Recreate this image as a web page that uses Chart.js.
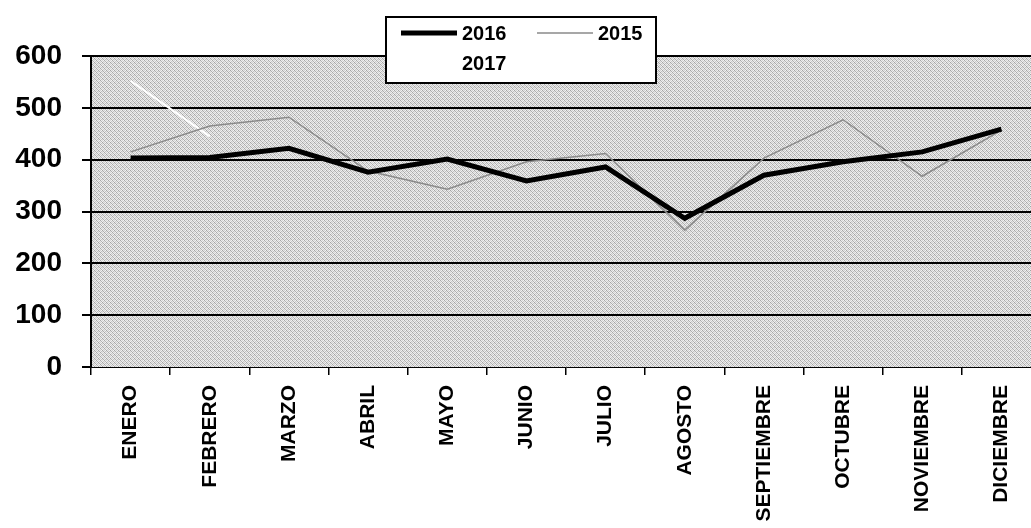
<!DOCTYPE html>
<html>
<head>
<meta charset="utf-8">
<script src="https://cdn.jsdelivr.net/npm/chart.js@4.4.1/dist/chart.umd.min.js"></script>
<style>
  html, body { margin: 0; padding: 0; background: #fff; overflow: hidden; }
  canvas { display: block; }
</style>
</head>
<body>
<canvas id="ventasChart" width="1045" height="528"></canvas>
<script>
// --- DATOS ---
const meses = ['ENERO', 'FEBRERO', 'MARZO', 'ABRIL', 'MAYO', 'JUNIO', 'JULIO', 'AGOSTO',
               'SEPTIEMBRE', 'OCTUBRE', 'NOVIEMBRE', 'DICIEMBRE'];
const datos2016 = [403, 404, 422, 376, 401, 359, 386, 287, 370, 396, 415, 459];
const datos2015 = [415, 465, 482, 378, 343, 396, 412, 264, 403, 477, 368, 457];
const datos2017 = [552, 445, null, null, null, null, null, null, null, null, null, null];
const ticksY = [0, 100, 200, 300, 400, 500, 600];

// fondo gris tramado del área de trazado
const patCanvas = document.createElement('canvas');
patCanvas.width = 4;
patCanvas.height = 4;
const pctx = patCanvas.getContext('2d');
const tonos = ['#a8a8a8', '#ececec', '#d4d4d4', '#f2f2f2',
               '#e6e6e6', '#b4b4b4', '#f0f0f0', '#c8c8c8',
               '#d0d0d0', '#f4f4f4', '#a4a4a4', '#e8e8e8',
               '#eeeeee', '#c0c0c0', '#e2e2e2', '#b0b0b0'];
tonos.forEach((c, i) => {
    pctx.fillStyle = c;
    pctx.fillRect(i % 4, Math.floor(i / 4), 1, 1);
});

const fondoPlugin = {
    id: 'fondo',
    beforeDraw(chart) {
        const { ctx, chartArea: a } = chart;
        ctx.save();
        ctx.fillStyle = ctx.createPattern(patCanvas, 'repeat');
        ctx.fillRect(a.left, a.top, a.right - a.left, a.bottom - a.top);
        ctx.restore();
    }
};

// --- LEYENDA (caja con borde) ---
const leyendaPlugin = {
    id: 'leyenda',
    afterDraw(chart) {
        const ctx = chart.ctx;
        const ds = chart.data.datasets;
        ctx.save();
        ctx.fillStyle = '#fff';
        ctx.fillRect(386, 17, 270, 66);
        ctx.strokeStyle = '#000';
        ctx.lineWidth = 2;
        ctx.strokeRect(386, 17, 270, 66);
        const items = [
            { d: ds[0], x: 401, y: 33 },
            { d: ds[1], x: 537, y: 33 },
            { d: ds[2], x: 401, y: 63 }
        ];
        ctx.font = 'bold 20px "Liberation Sans", Arial, sans-serif';
        ctx.textBaseline = 'middle';
        items.forEach(it => {
            ctx.beginPath();
            ctx.strokeStyle = it.d.borderColor;
            ctx.lineWidth = it.d.borderWidth;
            ctx.moveTo(it.x, it.y);
            ctx.lineTo(it.x + 56, it.y);
            ctx.stroke();
            ctx.fillStyle = '#000';
            ctx.fillText(it.d.label, it.x + 61, it.y + 1);
        });
        ctx.restore();
    }
};

const chartCtx = document.getElementById('ventasChart').getContext('2d');
new Chart(chartCtx, {
    type: 'line',
    data: {
        labels: meses,
        datasets: [
            { label: '2016', data: datos2016, borderColor: '#000', borderWidth: 5 },
            { label: '2015', data: datos2015, borderColor: '#8a8a8a', borderWidth: 1.5 },
            { label: '2017', data: datos2017, borderColor: '#fff', borderWidth: 2 }
        ]
    },
    options: {
        responsive: false,
        animation: false,
        events: [],
        layout: { padding: { top: 56, right: 4, left: 0, bottom: 0 } },
        elements: {
            line: { tension: 0, fill: false },
            point: { radius: 0 }
        },
        plugins: {
            legend: { display: false },
            tooltip: { enabled: false }
        },
        scales: {
            x: {
                offset: true,
                grid: {
                    offset: true,
                    drawOnChartArea: false,
                    drawTicks: true,
                    tickLength: 8,
                    tickColor: '#000',
                    lineWidth: 1.5
                },
                border: { color: '#000', width: 1, dash: [1, 1] },
                ticks: {
                    color: '#000',
                    autoSkip: false,
                    minRotation: 90,
                    maxRotation: 90,
                    padding: 10,
                    font: { family: '"Liberation Sans", Arial, sans-serif', size: 21, weight: 'bold' }
                },
                afterFit(scale) { scale.height = 161; }
            },
            y: {
                min: 0,
                max: 600,
                afterBuildTicks(scale) { scale.ticks = ticksY.map(v => ({ value: v })); },
                grid: {
                    color: ctx => ctx.tick && ctx.tick.value === 0 ? 'rgba(0,0,0,0)' : '#000',
                    lineWidth: 2,
                    drawTicks: true,
                    tickLength: 9,
                    tickColor: '#000'
                },
                border: { color: '#000', width: 2 },
                ticks: {
                    color: '#000',
                    padding: 20,
                    font: { family: '"Liberation Sans", Arial, sans-serif', size: 28, weight: 'bold' }
                },
                afterFit(scale) { scale.width = 91; }
            }
        }
    },
    plugins: [fondoPlugin, leyendaPlugin]
});
</script>
</body>
</html>
